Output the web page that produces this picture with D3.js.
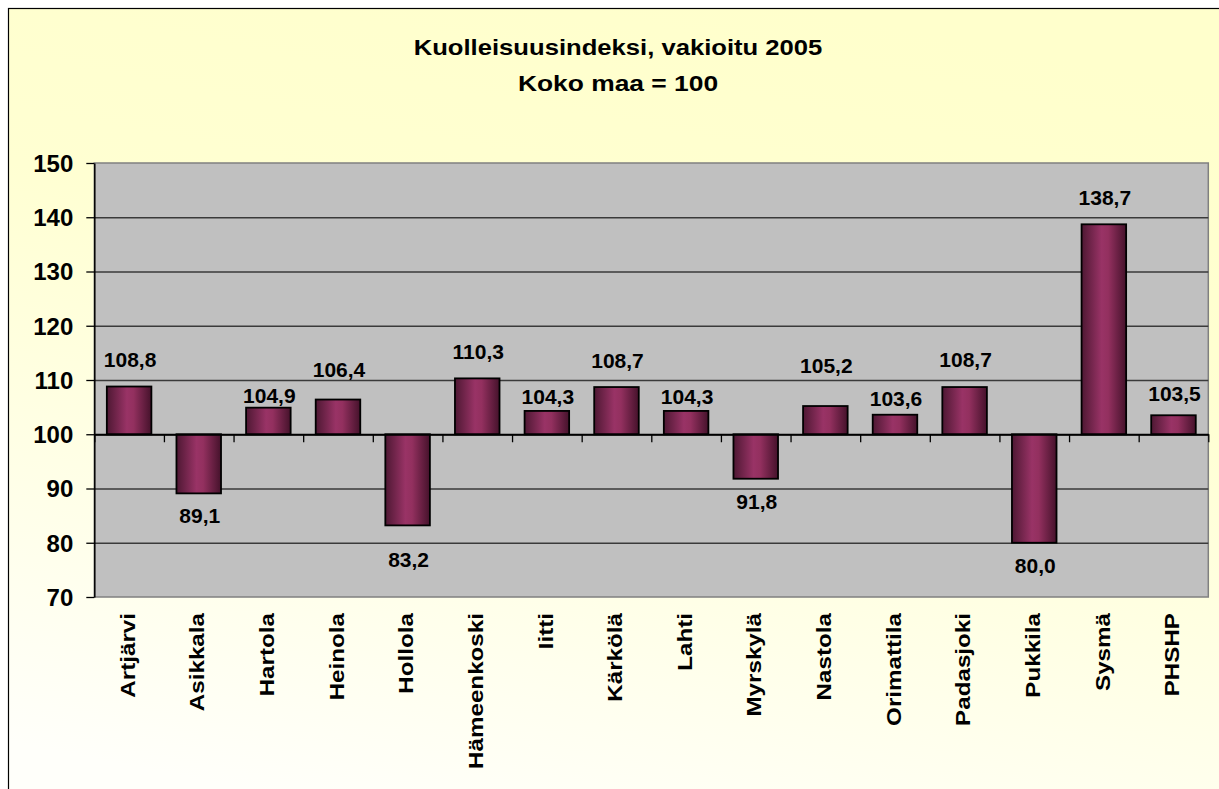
<!DOCTYPE html>
<html>
<head>
<meta charset="utf-8">
<script src="https://cdn.jsdelivr.net/npm/d3@7"></script>
<style>
  html, body { margin: 0; padding: 0; background: #ffffff; }
  svg { display: block; }
  text { font-family: "Liberation Sans", Arial, sans-serif; font-weight: bold; fill: #000; }
</style>
</head>
<body>
<svg id="chart" width="1219" height="789"></svg>
<script>
// ---- data ----
const titleLines = ["Kuolleisuusindeksi, vakioitu 2005", "Koko maa = 100"];
const categories = ["Artjärvi", "Asikkala", "Hartola", "Heinola", "Hollola", "Hämeenkoski", "Iitti",
  "Kärkölä", "Lahti", "Myrskylä", "Nastola", "Orimattila", "Padasjoki", "Pukkila", "Sysmä", "PHSHP"];
const values = [108.8, 89.1, 104.9, 106.4, 83.2, 110.3, 104.3, 108.7, 104.3, 91.8, 105.2, 103.6, 108.7, 80.0, 138.7, 103.5];
// value-axis level at which each data label's baseline sits (as placed in the original)
const labelLevels = [112.4, 83.7, 105.8, 110.5, 75.6, 113.9, 105.5, 112.3, 105.5, 86.2, 111.2, 105.2, 112.4, 74.4, 142.3, 106.1];
const yTicks = [70, 80, 90, 100, 110, 120, 130, 140, 150];
const baseValue = 100;

// ---- layout ----
const W = 1219, H = 789;
const plot = { left: 94.3, right: 1208.3, top: 163, bottom: 597 };

const svg = d3.select("#chart");
const defs = svg.append("defs");

const bg = defs.append("linearGradient").attr("id", "bgGrad")
  .attr("x1", "0.65").attr("y1", "0").attr("x2", "0.35").attr("y2", "1");
bg.append("stop").attr("offset", "0").attr("stop-color", "#FFFFCC");
bg.append("stop").attr("offset", "0.35").attr("stop-color", "#FFFFD2");
bg.append("stop").attr("offset", "1").attr("stop-color", "#FFFFFA");

const barGrad = defs.append("linearGradient").attr("id", "barGrad")
  .attr("x1", "0").attr("y1", "0").attr("x2", "1").attr("y2", "0");
barGrad.append("stop").attr("offset", "0").attr("stop-color", "#4E1833");
barGrad.append("stop").attr("offset", "0.45").attr("stop-color", "#993366");
barGrad.append("stop").attr("offset", "0.6").attr("stop-color", "#93305F");
barGrad.append("stop").attr("offset", "1").attr("stop-color", "#45122B");

// chart area background + frame (extends past the window like the original)
svg.append("rect").attr("x", 8.5).attr("y", 8.5).attr("width", 1240).attr("height", 820)
  .attr("fill", "url(#bgGrad)").attr("stroke", "#000").attr("stroke-width", 1.2);

// title
const titleG = svg.append("g");
titleLines.forEach((t, i) => {
  titleG.append("text")
    .attr("transform", `translate(618,${i === 0 ? 55 : 90.5}) scale(${i === 0 ? 1.165 : 1.2},1)`)
    .attr("text-anchor", "middle")
    .style("font-size", "22px")
    .text(t);
});

// scales
const x = d3.scaleBand().domain(categories).range([plot.left, plot.right])
  .paddingInner(0.36).paddingOuter(0.18);
const xIdx = d3.scaleLinear().domain([0, categories.length]).range([plot.left, plot.right]);
const y = d3.scaleLinear().domain([70, 150]).range([plot.bottom, plot.top]);

// plot area
svg.append("rect").attr("x", plot.left).attr("y", plot.top)
  .attr("width", plot.right - plot.left).attr("height", plot.bottom - plot.top)
  .attr("fill", "#C0C0C0").attr("stroke", "#808080").attr("stroke-width", 1.5);

// gridlines
const grid = svg.append("g").attr("transform", `translate(${plot.left},0)`)
  .call(d3.axisLeft(y).tickValues(yTicks.filter(v => v > 70 && v < 150))
    .tickSize(-(plot.right - plot.left)).tickFormat(""));
grid.select(".domain").remove();
grid.selectAll(".tick line").attr("stroke", "#3A3A3A").attr("stroke-width", 1.6);

// y axis
const yAxis = svg.append("g").attr("transform", `translate(${plot.left},0)`)
  .call(d3.axisLeft(y).tickValues(yTicks).tickSize(8).tickSizeOuter(0).tickPadding(13)
    .tickFormat(d3.format("d")));
yAxis.select(".domain").attr("stroke", "#000").attr("stroke-width", 1.5);
yAxis.selectAll(".tick line").attr("stroke", "#000").attr("stroke-width", 1.3);
yAxis.selectAll(".tick text")
  .style("font-size", "24px").style("font-family", "'Liberation Sans', Arial, sans-serif")
  .style("font-weight", "bold").attr("fill", "#000").attr("dy", "0.35em");

// bars
const fmt = v => d3.format(".1f")(v).replace(".", ",");
svg.append("g").selectAll("rect").data(values).join("rect")
  .attr("x", (d, i) => x(categories[i]))
  .attr("width", x.bandwidth())
  .attr("y", d => y(Math.max(d, baseValue)))
  .attr("height", d => Math.abs(y(d) - y(baseValue)))
  .attr("fill", "url(#barGrad)")
  .attr("stroke", "#000").attr("stroke-width", 1.8);

// category axis crossing at 100 with boundary ticks
const xAxis = svg.append("g").attr("transform", `translate(0,${y(baseValue)})`)
  .call(d3.axisBottom(xIdx).tickValues(d3.range(0, categories.length + 1))
    .tickSize(8).tickSizeOuter(0).tickFormat(""));
xAxis.select(".domain").attr("stroke", "#000").attr("stroke-width", 1.8);
xAxis.selectAll(".tick line").attr("stroke", "#000").attr("stroke-width", 1.3);

// data labels
svg.append("g").selectAll("text").data(values).join("text")
  .attr("x", (d, i) => x(categories[i]) + x.bandwidth() / 2 + 1)
  .attr("y", (d, i) => y(labelLevels[i]))
  .attr("text-anchor", "middle")
  .style("font-size", "21px")
  .text(d => fmt(d));

// category labels (rotated) under the plot area
const catAxis = svg.append("g").attr("transform", `translate(0,${plot.bottom})`)
  .call(d3.axisBottom(x).tickSize(0).tickSizeOuter(0));
catAxis.select(".domain").remove();
catAxis.selectAll(".tick text")
  .attr("y", 0).attr("dy", null)
  .attr("transform", "translate(-1,16) rotate(-90) scale(1.21,1)")
  .attr("text-anchor", "end")
  .attr("dominant-baseline", "central")
  .attr("x", 0)
  .style("font-size", "20px").style("font-family", "'Liberation Sans', Arial, sans-serif")
  .style("font-weight", "bold").attr("fill", "#000");
</script>
</body>
</html>
